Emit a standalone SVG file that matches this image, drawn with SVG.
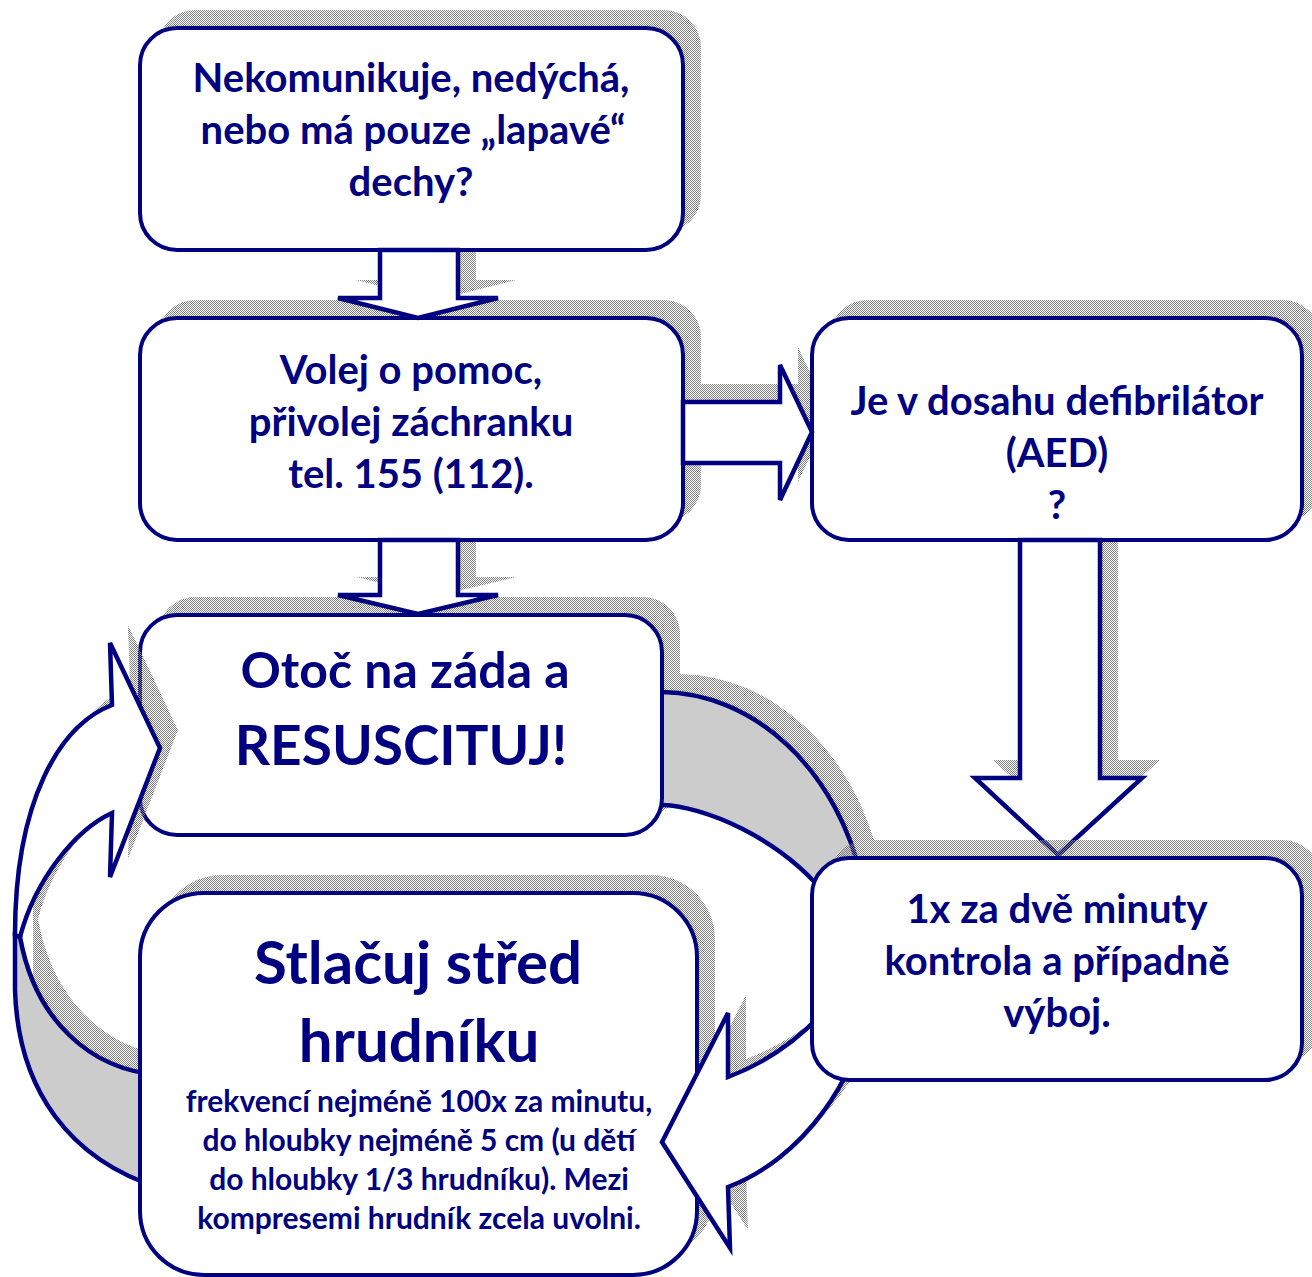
<svg xmlns="http://www.w3.org/2000/svg" width="1312" height="1277" viewBox="0 0 1312 1277">
<defs>
<pattern id="dither" width="2" height="2" patternUnits="userSpaceOnUse"><rect width="1" height="1" fill="#808080"/><rect x="1" y="1" width="1" height="1" fill="#808080"/></pattern>
<style>
.box{fill:#fff;stroke:#000080;stroke-width:4;stroke-linejoin:round}
.arr{fill:#fff;stroke:#000080;stroke-width:4.5;stroke-linejoin:miter}
.back{fill:#cccccc;stroke:#000080;stroke-width:4.5;stroke-linejoin:miter}
.sh{fill:url(#dither);stroke:none}
text{font-family:Lato,"Liberation Sans",sans-serif;font-weight:700;fill:#000080;text-anchor:middle}
.t40{font-size:40px}
.t50{font-size:50px}
.t55{font-size:55px}
.t60{font-size:60px}
.t30{font-size:30px}
</style>
</defs>
<rect width="1312" height="1277" fill="#fff"/>

<g id="shadows">
<rect class="sh" x="158" y="10" width="543" height="222" rx="37"/>
<rect class="sh" x="158" y="300" width="543" height="222" rx="37"/>
<rect class="sh" x="830" y="300" width="490" height="222" rx="37"/>
<rect class="sh" x="158" y="597" width="522" height="220" rx="37"/>
<path class="sh" d="M398,232 L476,232 L476,280 L516,280 L436,300 L356,280 L398,280 Z"/>
<path class="sh" d="M398,522 L476,522 L476,577 L516,577 L436,596 L356,577 L398,577 Z"/>
<path class="sh" d="M701,384 L798,384 L798,347 L830,414 L798,482 L798,445 L701,445 Z"/>
<path class="sh" d="M1038,522 L1118,522 L1118,760 L1160,760 L1076,837 L993,760 L1038,760 Z"/>
</g>

<g id="n1">
<rect class="box" x="140" y="28" width="543" height="222" rx="37"/>
<text class="t40" x="411" y="92">Nekomunikuje, nedýchá,</text>
<text class="t40" x="413" y="144">nebo má pouze „lapavé“</text>
<text class="t40" x="411" y="196">dechy?</text>
</g>
<g id="n2">
<rect class="box" x="140" y="318" width="543" height="222" rx="37"/>
<text class="t40" x="411" y="384">Volej o pomoc,</text>
<text class="t40" x="411" y="436">přivolej záchranku</text>
<text class="t40" x="411" y="488">tel. 155 (112).</text>
</g>
<g id="n3">
<rect class="box" x="812" y="318" width="490" height="222" rx="37"/>
<text class="t40" x="1057" y="415">Je v dosahu defibrilátor</text>
<text class="t40" x="1057" y="467">(AED)</text>
<text class="t40" x="1057" y="519">?</text>
</g>

<g id="connectors">
<path class="arr" d="M380,250 L458,250 L458,298 L498,298 L418,318 L338,298 L380,298 Z"/>
<path class="arr" d="M380,540 L458,540 L458,595 L498,595 L418,614 L338,595 L380,595 Z"/>
<path class="arr" d="M683,402 L780,402 L780,365 L812,432 L780,500 L780,463 L683,463 Z"/>
<path class="arr" d="M1020,540 L1100,540 L1100,778 L1142,778 L1058,855 L975,778 L1020,778 Z"/>
</g>

<g id="cycle-right-back">
<path class="sh" transform="translate(18,-18)" d="M640,692 L662,692 A210 258 0 0 1 862,880 L830,900 C780,835 700,806 663,805 L640,805 Z"/>
<path class="back" d="M640,692 L662,692 A210 258 0 0 1 862,880 L830,900 C780,835 700,806 663,805 L640,805 Z"/>
</g>

<g id="n4">
<rect class="box" x="140" y="615" width="522" height="220" rx="37"/>
<text class="t50" x="405" y="688">Otoč na záda a</text>
<text class="t55" x="401" y="765">RESUSCITUJ!</text>
</g>

<g id="cycle-left-back">
<rect class="sh" x="158" y="875" width="557" height="382" rx="64"/>
<path class="sh" transform="translate(18,-18)" d="M15,935 L15,990 C18,1090 70,1160 160,1188 L160,1075 C90,1070 35,1020 20,937 Z"/>
<path class="back" d="M15,935 L15,990 C18,1090 70,1160 160,1188 L160,1075 C90,1070 35,1020 20,937 Z"/>
</g>

<g id="n5">
<rect class="box" x="140" y="893" width="557" height="382" rx="64"/>
<text class="t60" x="418" y="984">Stlačuj střed</text>
<text class="t60" x="419" y="1062">hrudníku</text>
<text class="t30" x="419" y="1112">frekvencí nejméně 100x za minutu,</text>
<text class="t30" x="419" y="1151">do hloubky nejméně 5 cm (u dětí</text>
<text class="t30" x="419" y="1190">do hloubky 1/3 hrudníku). Mezi</text>
<text class="t30" x="419" y="1229">kompresemi hrudník zcela uvolni.</text>
</g>

<g id="cycle-front">
<path class="sh" transform="translate(18,-18)" d="M20,937 C35,880 75,830 112,813 L110,877 L160,748 L110,643 L112,705 C60,725 15,800 15,935 Z"/>
<path class="arr" d="M20,937 C35,880 75,830 112,813 L110,877 L160,748 L110,643 L112,705 C60,725 15,800 15,935 Z"/>
<path class="sh" transform="translate(18,-18)" d="M870,990 C862,1080 800,1160 728,1187 L730,1248 L662,1142 L728,1013 L728,1077 C760,1065 795,1045 830,1005 Z"/>
<path class="arr" d="M870,990 C862,1080 800,1160 728,1187 L730,1248 L662,1142 L728,1013 L728,1077 C760,1065 795,1045 830,1005 Z"/>
</g>

<g id="n6">
<rect class="sh" x="830" y="840" width="490" height="222" rx="37"/>
<rect class="box" x="812" y="858" width="490" height="222" rx="37"/>
<text class="t40" x="1057" y="923">1x za dvě minuty</text>
<text class="t40" x="1057" y="975">kontrola a případně</text>
<text class="t40" x="1057" y="1027">výboj.</text>
</g>
</svg>
